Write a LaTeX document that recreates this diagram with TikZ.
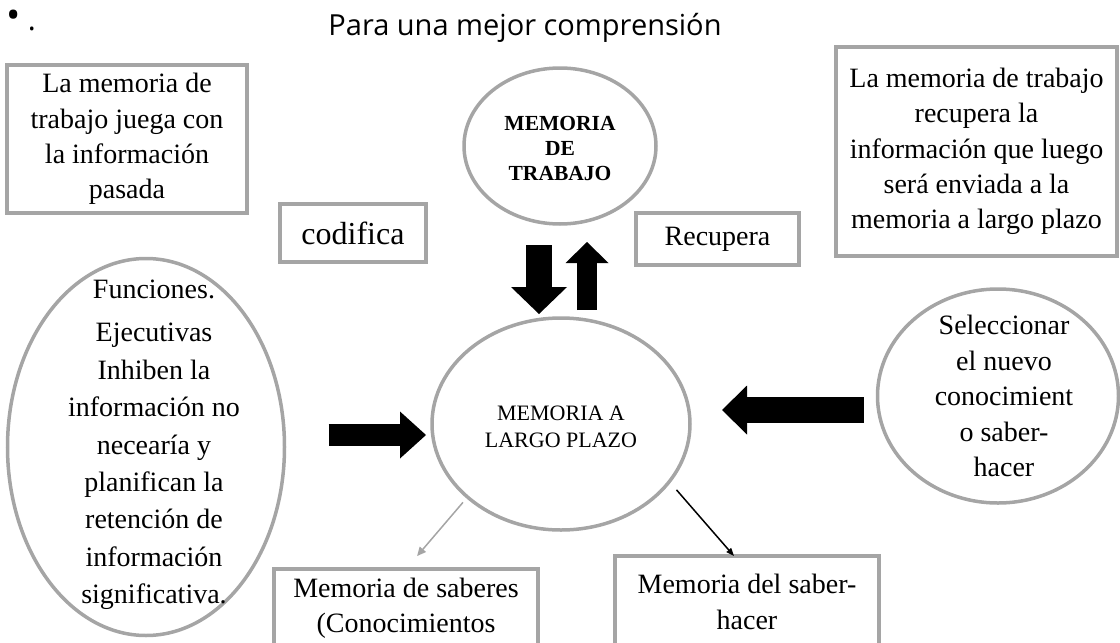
\documentclass[tikz,border=0pt]{standalone}
\usepackage{fontspec}
\setmainfont{Liberation Serif}
\newfontfamily\titlefont{Open Sans}
\usetikzlibrary{shapes.geometric,arrows.meta}
\definecolor{grisborde}{RGB}{165,165,165}
\begin{document}
\begin{tikzpicture}[x=1pt,y=-1pt,
  caja/.style={draw=grisborde,line width=3.5pt,rectangle,align=center,inner sep=0pt,outer sep=0pt,
    font=\fontsize{28pt}{35.3pt}\selectfont},
  elipse/.style={draw=grisborde,line width=3.5pt,ellipse,inner sep=0pt,outer sep=0pt},
  texto/.style={align=center,font=\fontsize{28pt}{35.5pt}\selectfont}]
\useasboundingbox (0,0) rectangle (1120,643);
\clip (0,0) rectangle (1120,643);
\node[font=\titlefont\fontsize{30pt}{33pt}\selectfont,anchor=base west,inner sep=0pt] (vineta) at (6,30) {{\fontsize{38pt}{38pt}\selectfont\raisebox{2pt}{•}}\hspace{7.5pt}.};
\node[font=\titlefont\fontsize{29pt}{33pt}\selectfont,anchor=base,inner sep=0pt] (titulo) at (525,35) {Para una mejor comprensión};
% cajas
\node[caja,minimum width=240pt,minimum height=148pt] (ta) at (127,139) {La memoria de\\trabajo juega con\\la información\\pasada};
\node[caja,minimum width=146pt,minimum height=58pt,font=\fontsize{32pt}{36pt}\selectfont] (cod) at (353,233) {codifica};
\node[caja,minimum width=163pt,minimum height=52pt] (rec) at (717.5,239) {Recupera};
\node[caja,minimum width=281pt,minimum height=209pt] (tb) at (976.5,151.5) {La memoria de trabajo\\recupera la\\información que luego\\será enviada a la\\memoria a largo plazo};
\node[caja,minimum width=264pt,minimum height=78pt,anchor=north] (ms) at (406,569) {Memoria de saberes\\(Conocimientos};
\node[caja,minimum width=264pt,minimum height=92pt,anchor=north] (mh) at (747,556) {Memoria del saber-\\hacer};
% elipses
\node[elipse,minimum width=192pt,minimum height=156pt,
  label={[align=center,font=\bfseries\fontsize{21.5pt}{25pt}\selectfont,yshift=-2pt]center:{MEMORIA\\DE\\TRABAJO}}] (mdt) at (560,146) {};
\node[elipse,minimum width=258pt,minimum height=212pt,
  label={[align=center,font=\fontsize{22pt}{27pt}\selectfont,yshift=-3pt]center:{MEMORIA A\\LARGO PLAZO}}] (mlp) at (561,424) {};
\node[elipse,minimum width=277pt,minimum height=377pt,
  label={[texto,font=\fontsize{28pt}{37.4pt}\selectfont,xshift=8pt,yshift=2pt]center:{Funciones.\\[5.5pt]Ejecutivas\\Inhiben la\\información no\\necearía y\\planifican la\\retención de\\información\\significativa.}}] (fe) at (146,447) {};
\node[elipse,minimum width=241pt,minimum height=214pt,
  label={[texto,xshift=6pt]center:{Seleccionar\\el nuevo\\conocimient\\o saber-\\hacer}}] (sel) at (998,396) {};
% flechas gruesas
\draw[line width=26pt,-{Triangle[length=27pt,width=56pt,line width=0pt]},shorten <=21pt,shorten >=4pt]
  ([xshift=-21pt]mdt.south) -- ([xshift=-22pt]mlp.north);
\draw[line width=20pt,-{Triangle[length=21pt,width=43pt,line width=0pt]},shorten <=8pt,shorten >=18pt]
  ([xshift=26pt]mlp.north) -- ([xshift=27pt]mdt.south);
\draw[line width=22pt,-{Triangle[length=26pt,width=47pt,line width=0pt]},shorten <=44pt,shorten >=6pt]
  ([yshift=12pt]fe.east) -- ([yshift=-11pt]mlp.west);
\draw[line width=26pt,-{Triangle[length=25pt,width=49pt,line width=0pt]},shorten <=14pt,shorten >=32pt]
  ([yshift=-14pt]sel.west) -- ([yshift=14pt]mlp.east);
% flechas finas
\draw[draw=grisborde,line width=1.5pt,-{Triangle[length=9pt,width=8pt]},shorten <=7pt,shorten >=17pt]
  (mlp.218) -- (ms.north);
\draw[line width=1.5pt,-{Triangle[length=8pt,width=6pt]},shorten <=11pt]
  (mlp.332) -- ([xshift=-13pt]mh.north);
\end{tikzpicture}
\end{document}
